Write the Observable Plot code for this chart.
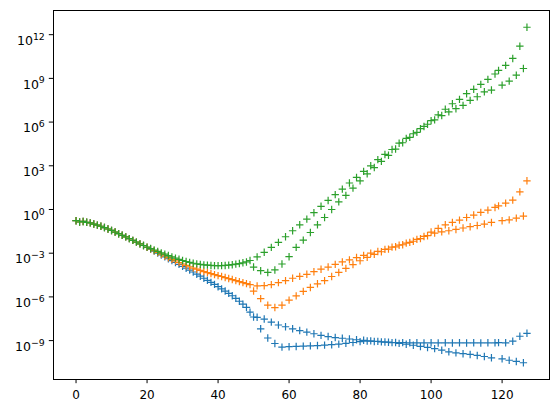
<!DOCTYPE html>
<html><head><meta charset="utf-8">
<script src="https://cdn.jsdelivr.net/npm/d3@7"></script>
<script src="https://cdn.jsdelivr.net/npm/@observablehq/plot@0.6"></script>
<style>body{margin:0;background:#fff} svg{font-family:"DejaVu Sans",sans-serif}</style>
</head><body><div id="chart"></div>
<script>
// x positions (sample index)
const xs = d3.range(128);
// log10 of each value
const blueExp = [
-0.77,-0.86,-0.82,-0.88,-0.92,-1.0,-1.07,-1.15,-1.24,-1.34,
-1.44,-1.55,-1.66,-1.77,-1.88,-2.0,-2.12,-2.24,-2.36,-2.47,
-2.6,-2.73,-2.86,-2.99,-3.12,-3.25,-3.38,-3.51,-3.64,-3.77,
-3.9,-4.03,-4.16,-4.29,-4.44,-4.58,-4.72,-4.86,-5.0,-5.14,
-5.3,-5.45,-5.6,-5.76,-5.92,-6.1,-6.3,-6.5,-6.72,-7.05,
-7.38,-7.4,-8.19,-7.52,-8.82,-7.73,-9.2,-7.93,-9.45,-8.05,
-9.42,-8.19,-9.4,-8.31,-9.38,-8.42,-9.36,-8.53,-9.34,-8.64,
-9.31,-8.72,-9.28,-8.79,-9.24,-8.84,-9.19,-8.89,-9.13,-8.94,
-9.07,-8.98,-9.03,-9.02,-9.06,-9.05,-9.09,-9.1,-9.11,-9.14,
-9.13,-9.19,-9.14,-9.25,-9.15,-9.32,-9.15,-9.4,-9.16,-9.47,
-9.15,-9.55,-9.16,-9.66,-9.15,-9.77,-9.16,-9.84,-9.15,-9.9,
-9.16,-9.95,-9.15,-10.02,-9.16,-10.09,-9.15,-10.18,-9.15,-9.14,
-10.25,-9.15,-10.35,-9.04,-10.43,-8.7,-10.52,-8.5];
const orangeExp = [
-0.77,-0.86,-0.82,-0.88,-0.92,-1.0,-1.07,-1.15,-1.24,-1.34,
-1.44,-1.55,-1.66,-1.77,-1.88,-2.0,-2.12,-2.24,-2.36,-2.47,
-2.59,-2.71,-2.83,-2.95,-3.07,-3.19,-3.31,-3.42,-3.53,-3.64,
-3.74,-3.84,-3.93,-4.02,-4.1,-4.18,-4.26,-4.33,-4.4,-4.47,
-4.54,-4.6,-4.67,-4.74,-4.81,-4.88,-4.95,-5.02,-5.09,-5.16,
-5.6,-5.24,-6.12,-5.23,-6.57,-5.16,-6.73,-5.02,-6.57,-4.88,
-6.22,-4.72,-5.93,-4.59,-5.62,-4.45,-5.35,-4.27,-5.1,-4.1,
-4.88,-3.95,-4.6,-3.77,-4.32,-3.6,-4.04,-3.46,-3.78,-3.3,
-3.52,-3.15,-3.29,-3.0,-3.08,-2.88,-2.9,-2.74,-2.72,-2.58,
-2.56,-2.45,-2.42,-2.31,-2.26,-2.18,-2.05,-2.0,-1.85,-1.8,
-1.55,-1.62,-1.3,-1.53,-1.05,-1.46,-0.89,-1.37,-0.73,-1.27,
-0.55,-1.18,-0.38,-1.1,-0.2,-1.0,-0.04,-0.89,0.14,0.25,
-0.77,0.44,-0.71,0.64,-0.59,1.21,-0.45,1.97];
const greenExp = [
-0.77,-0.86,-0.82,-0.88,-0.92,-1.0,-1.07,-1.15,-1.24,-1.34,
-1.44,-1.55,-1.66,-1.77,-1.88,-2.0,-2.12,-2.24,-2.36,-2.47,
-2.58,-2.68,-2.78,-2.88,-2.98,-3.07,-3.16,-3.25,-3.34,-3.42,
-3.5,-3.57,-3.63,-3.69,-3.73,-3.77,-3.8,-3.82,-3.84,-3.85,
-3.85,-3.85,-3.84,-3.82,-3.79,-3.75,-3.71,-3.66,-3.6,-3.5,
-3.95,-3.25,-4.2,-2.94,-4.32,-2.6,-4.15,-2.26,-3.74,-1.87,
-3.24,-1.46,-2.6,-1.05,-2.1,-0.66,-1.58,-0.22,-1.05,0.22,
-0.55,0.62,0.0,1.02,0.52,1.4,0.97,1.82,1.47,2.2,
1.97,2.62,2.45,3.0,2.88,3.42,3.3,3.78,3.72,4.12,
4.15,4.55,4.58,4.88,4.95,5.2,5.3,5.55,5.7,5.85,
6.1,6.15,6.5,6.45,6.88,6.7,7.26,6.92,7.56,7.15,
7.95,7.49,8.25,7.74,8.59,8.08,8.93,8.2,9.3,9.55,
8.54,9.89,8.81,10.37,9.22,11.21,9.68,12.51];
const seriesNames = ["blue", "orange", "green"];
const seriesColors = ["#1f77b4", "#ff7f0e", "#2ca02c"];
const seriesExps = [blueExp, orangeExp, greenExp];
const xTicks = [0, 20, 40, 60, 80, 100, 120];
const yTickExps = [-9, -6, -3, 0, 3, 6, 9, 12];

const plus = {draw(ctx, size) {
  const r = Math.sqrt(size / Math.PI);
  ctx.moveTo(-r, 0); ctx.lineTo(r, 0);
  ctx.moveTo(0, -r); ctx.lineTo(0, r);
}};

const dotMarks = seriesNames.map((name, k) => {
  const rows = seriesExps[k].map((e, i) => ({x: xs[i], y: Math.pow(10, e), s: name}));
  return Plot.dot(rows, {x: "x", y: "y", symbol: plus, r: 3.7, stroke: seriesColors[k], strokeWidth: 1.2, fill: "none"});
});

const chart = Plot.plot({
  width: 559, height: 413,
  marginLeft: 53, marginRight: 10, marginTop: 10, marginBottom: 34,
  style: {fontFamily: "DejaVu Sans, sans-serif", fontSize: "12px", color: "black", background: "white", overflow: "visible"},
  x: {domain: [-6.35, 133.35], ticks: xTicks, tickSize: 4.2, tickPadding: 7, label: null},
  y: {type: "log", domain: [Math.pow(10, -11.67), Math.pow(10, 13.66)], ticks: yTickExps.map(e => Math.pow(10, e)),
      tickFormat: d => String(Math.round(Math.log10(d))), tickSize: 4.2, tickPadding: 4.5, label: null},
  marks: [
    ...dotMarks,
    Plot.frame({stroke: "black", strokeWidth: 1})
  ]
});
document.getElementById("chart").appendChild(chart);
d3.select(chart).selectAll('g[aria-label="x-axis tick label"]').attr("font-size", "12px");
d3.select(chart).selectAll('g[aria-label="y-axis tick label"]').attr("font-size", "12.5px");
d3.select(chart).selectAll('g[aria-label="y-axis tick label"] text').each(function() {
  const t = d3.select(this);
  const e = t.text();
  t.text("10").attr("dy", "0.5em");
  t.append("tspan").attr("dy", "-0.55em").attr("font-size", "0.75em").text(e.replace("-", "\u2212"));
});
</script>
</body></html>
